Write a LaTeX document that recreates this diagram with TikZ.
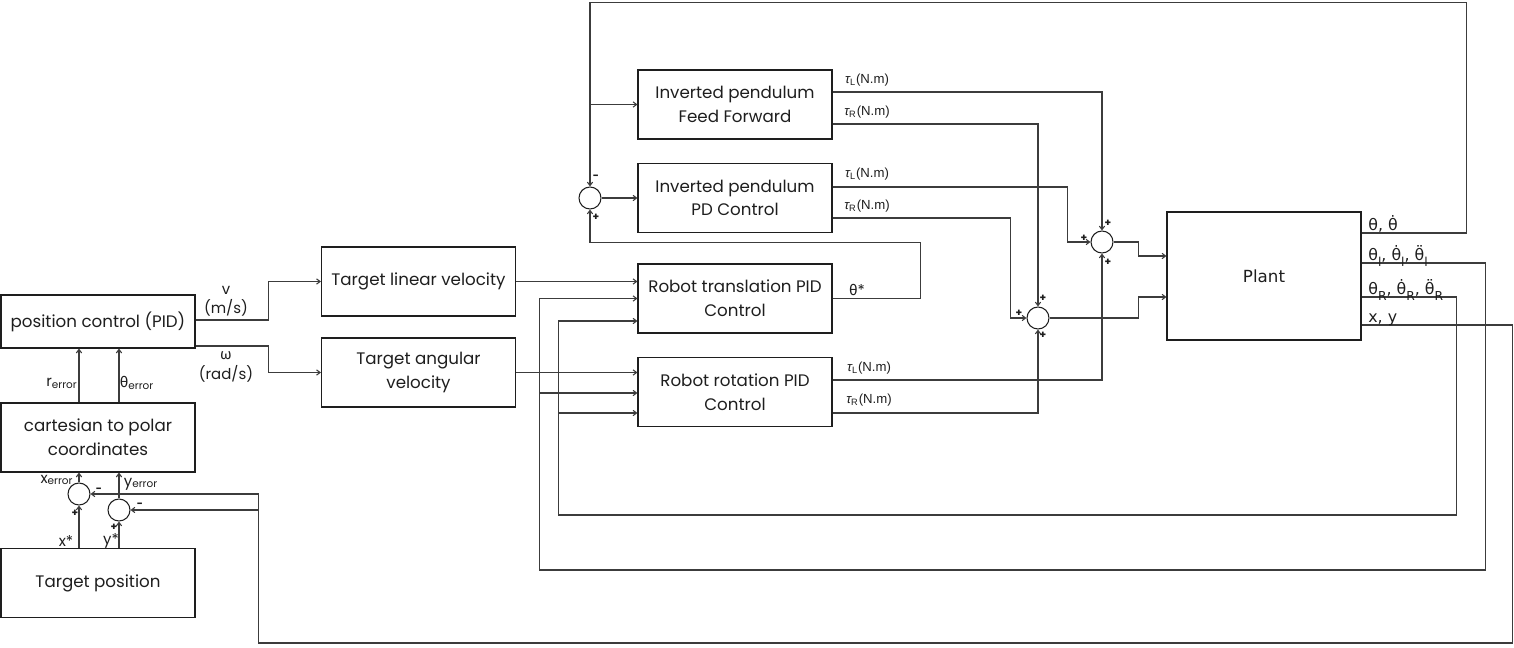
\documentclass[tikz,border=0pt]{standalone}
\usepackage{fontspec}
\setmainfont{Poppins}
\newfontfamily\gkfont{Fira Sans}
\newfontfamily\plantfont{DejaVu Sans}
\newfontfamily\taufont{Liberation Sans}
\usetikzlibrary{arrows.meta,calc}
\definecolor{inkblack}{HTML}{1E1E1E}
\definecolor{wiregray}{HTML}{3C3C3C}
\tikzset{
  blockbox/.style={draw=inkblack,line width=0.65pt,minimum width=38.8mm,minimum height=13.8mm,align=center,font=\fontsize{9.5}{13.5}\selectfont,text=inkblack,inner sep=2pt},
  sumnode/.style={circle,draw=inkblack,line width=0.6pt,minimum size=4.4mm,inner sep=0pt},
  sigline/.style={-{Straight Barb[length=2pt,width=3pt]},draw=wiregray,line width=0.6pt},
  siglabel/.style={font=\fontsize{8.5}{11}\selectfont,align=center,inner sep=0pt,text=inkblack},
  torquelabel/.style={font=\taufont\fontsize{7.5}{9}\selectfont,inner sep=0pt,text=inkblack},
  signlabel/.style={font=\fontsize{6}{6}\selectfont\bfseries,inner sep=0pt,text=inkblack},
  plantlabel/.style={font=\plantfont\fontsize{9}{11}\selectfont,inner sep=0pt,anchor=west,text=inkblack},
}
\newcommand{\gk}[1]{{\gkfont #1}}
\newcommand{\lowsub}[1]{\raisebox{-0.7ex}{\fontsize{7}{7}\selectfont #1}}
\newcommand{\tq}[1]{{\itshape τ}\textsubscript{#1}(N.m)}

\begin{document}
\begin{tikzpicture}[x=0.2mm,y=-0.2mm]
  \useasboundingbox (0,0) rectangle (1514,647);
  % left column
  \node[blockbox,minimum height=10.6mm] (posctrl) at (98,321.5) {position control (PID)};
  \node[blockbox] (cart2pol) at (98,437.5) {cartesian to polar\\coordinates};
  \node[blockbox] (targetpos) at (98,583) {Target position};
  \node[sumnode] (sumx) at (79,494) {};
  \node[sumnode] (sumy) at (119,510) {};
  % velocity targets
  \node[blockbox] (linvel) at (418.5,281.5) {Target linear velocity};
  \node[blockbox] (angvel) at (418.5,372.5) {Target angular\\velocity};
  % controllers
  \node[blockbox] (pendff) at (735,104.5) {Inverted pendulum\\Feed Forward};
  \node[blockbox] (pendpd) at (735,198) {Inverted pendulum\\PD Control};
  \node[blockbox] (transpid) at (735,298.5) {Robot translation PID\\Control};
  \node[blockbox] (rotpid) at (735,392) {Robot rotation PID\\Control};
  \node[sumnode] (sumpend) at (590,198) {};
  \node[sumnode] (sumleft) at (1102,242) {};
  \node[sumnode] (sumright) at (1038,318) {};
  \node[blockbox,minimum height=25.6mm,font=\plantfont\fontsize{9.5}{11}\selectfont] (plant) at (1264,276) {Plant};

  % position loop
  \draw[sigline] (targetpos.north -| sumx) -- (sumx.south);
  \draw[sigline] (targetpos.north -| sumy) -- (sumy.south);
  \draw[sigline] (sumx.north) -- (cart2pol.south -| sumx);
  \draw[sigline] (sumy.north) -- (cart2pol.south -| sumy);
  \draw[sigline] (cart2pol.north -| sumx) -- (posctrl.south -| sumx);
  \draw[sigline] (cart2pol.north -| sumy) -- (posctrl.south -| sumy);
  \draw[sigline] ($(posctrl.east)+(0,-1.5)$) -- ++(73,0) |- (linvel.west);
  \draw[sigline] ($(posctrl.east)+(0,24.5)$) -- ++(73,0) |- (angvel.west);
  \draw[sigline] (linvel.east) -- (linvel.east -| transpid.west);
  \draw[sigline] (angvel.east) -- (angvel.east -| rotpid.west);

  % pendulum loop
  \draw[sigline] ($(plant.east)+(0,-43)$) -- ++(105,0) |- ($(sumpend.north)+(0,-184)$) -- (sumpend.north);
  \draw[sigline] (pendff.west -| sumpend) -- (pendff.west);
  \draw[sigline] (transpid.east) -- ++(88,0) |- ($(sumpend.south)+(0,33)$) -- (sumpend.south);
  \draw[sigline] (sumpend.east) -- (pendpd.west);

  % torques
  \draw[sigline] ($(pendff.east)+(0,-12.5)$) -| (sumleft.north);
  \draw[sigline] ($(pendff.east)+(0,19.5)$) -| (sumright.north);
  \draw[sigline] ($(pendpd.east)+(0,-11)$) -- ++(235,0) |- (sumleft.west);
  \draw[sigline] ($(pendpd.east)+(0,20)$) -- ++(178,0) |- (sumright.west);
  \draw[sigline] ($(rotpid.east)+(0,-12)$) -| (sumleft.south);
  \draw[sigline] ($(rotpid.east)+(0,21)$) -| (sumright.south);
  \draw[sigline] (sumleft.east) -- ++(25,0) |- ($(plant.west)+(0,-20)$);
  \draw[sigline] (sumright.east) -- ++(89,0) |- ($(plant.west)+(0,21)$);

  % feedback from plant
  \draw[sigline] ($(plant.east)+(0,-13)$) -- ++(124,0) -- ++(0,307) -| ($(transpid.west)+(-98,0)$) -- (transpid.west);
  \draw[sigline] ($(rotpid.west)+(-98,1)$) -- ($(rotpid.west)+(0,1)$);
  \draw[sigline] ($(plant.east)+(0,21)$) -- ++(95,0) -- ++(0,218) -| ($(transpid.west)+(-79,22.5)$) -- ($(transpid.west)+(0,22.5)$);
  \draw[sigline] ($(rotpid.west)+(-79,21)$) -- ($(rotpid.west)+(0,21)$);
  \draw[sigline] ($(plant.east)+(0,49)$) -- ++(151,0) -- ++(0,318) -| ($(sumx.east)+(168,0)$) -- (sumx.east);
  \draw[sigline] ($(sumx.east)+(168,0)$) |- (sumy.east);

  % signal labels
  \node[siglabel] at (226,301) {v\\(m/s)};
  \node[siglabel] at (226,367) {\gk{ω}\\(rad/s)};
  \node[siglabel] at (62,383) {r\textsubscript{error}};
  \node[siglabel] at (137,383) {\gk{θ}\textsubscript{error}};
  \node[siglabel] at (57,480) {x\textsubscript{error}};
  \node[siglabel] at (141,484) {y\textsubscript{error}};
  \node[siglabel] at (66,541) {x*};
  \node[siglabel] at (111,541) {y*};
  \node[siglabel] at (857,290) {\gk{θ}*};
  \node[torquelabel] at (867,80) {\tq{L}};
  \node[torquelabel] at (867,112) {\tq{R}};
  \node[torquelabel] at (867,174) {\tq{L}};
  \node[torquelabel] at (867,206) {\tq{R}};
  \node[torquelabel] at (869,368) {\tq{L}};
  \node[torquelabel] at (869,400) {\tq{R}};
  \node[plantlabel] at (1368,224) {θ, θ̇};
  \node[plantlabel] at (1368,256) {θ\lowsub{l}, θ̇\lowsub{l}, θ̈\lowsub{l}};
  \node[plantlabel] at (1368,290) {θ\lowsub{R}, θ̇\lowsub{R}, θ̈\lowsub{R}};
  \node[plantlabel] at (1368,320) {x, y};

  % summing signs
  \node[signlabel] at (75,513) {+};
  \node[signlabel] at (99,490) {-};
  \node[signlabel] at (114,527) {+};
  \node[signlabel] at (140,505) {-};
  \node[signlabel] at (596,177) {-};
  \node[signlabel] at (596,217) {+};
  \node[signlabel] at (1108,223) {+};
  \node[signlabel] at (1084,238) {+};
  \node[signlabel] at (1108,262) {+};
  \node[signlabel] at (1043,298) {+};
  \node[signlabel] at (1019,313) {+};
  \node[signlabel] at (1043,335) {+};
\end{tikzpicture}
\end{document}
